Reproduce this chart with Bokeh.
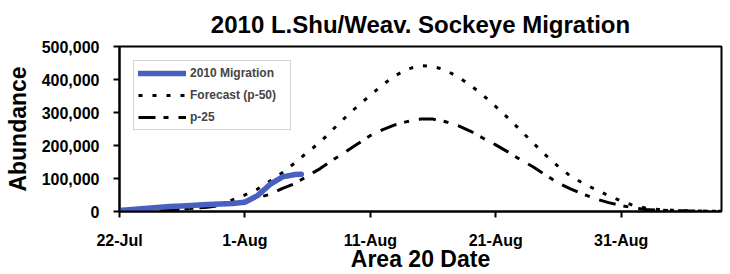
from bokeh.plotting import figure
from bokeh.models import Range1d, FixedTicker, NumeralTickFormatter, Legend, LegendItem
from bokeh.embed import file_html
from bokeh.resources import INLINE

# Days since 22-Jul
days = list(range(0, 49))
p50 = [0, 1000, 2000, 3000, 5000, 7000, 10000, 15000, 22000, 35000,
       50000, 68000, 92000, 118000, 148000, 180000, 210000, 248000, 285000, 320000,
       352000, 385000, 412000, 432000, 442000, 440000, 428000, 408000, 382000, 352000,
       318000, 283000, 245000, 207000, 170000, 136000, 106000, 85000, 66000, 48000,
       32000, 18000, 10000, 6000, 4000, 2500, 1500, 1000, 500]
p25 = [0, 1000, 2000, 3000, 5000, 7000, 10000, 13000, 18000, 24000,
       32000, 42000, 52000, 70000, 85000, 108000, 130000, 156000, 180000, 205000,
       230000, 248000, 263000, 273000, 280000, 280000, 272000, 260000, 243000, 222000,
       202000, 180000, 156000, 135000, 110000, 86000, 68000, 52000, 38000, 27000,
       18000, 11000, 6000, 4000, 3000, 2000, 1500, 1000, 500]
mig_days = [0, 1, 2, 3, 4, 5, 6, 7, 8, 9, 10, 11, 12, 13, 14, 14.5]
migration = [3000, 6000, 9000, 12000, 15000, 17000, 19000, 21000, 23000, 24000,
             28000, 48000, 82000, 105000, 112000, 113000]

tick_days = [0, 10, 20, 30, 40]
tick_labels = ["22-Jul", "1-Aug", "11-Aug", "21-Aug", "31-Aug"]
y_ticks = [0, 100000, 200000, 300000, 400000, 500000]

p = figure(width=724, height=274, output_backend="svg", toolbar_location=None,
           x_range=Range1d(0, 48), y_range=Range1d(0, 500000),
           min_border_left=119, min_border_right=3, min_border_top=46, min_border_bottom=63)
p.title.text = "2010 L.Shu/Weav. Sockeye Migration"
p.title.align = "center"
p.title.text_font = "Liberation Sans"
p.title.text_font_size = "24px"
p.title.text_font_style = "bold"
p.title.text_color = "black"
p.title.standoff = 17

p.xgrid.visible = False
p.ygrid.visible = False
p.outline_line_color = "black"
p.outline_line_width = 2
p.background_fill_color = "white"
p.border_fill_color = "white"

for ax in (p.xaxis[0], p.yaxis[0]):
    ax.axis_line_width = 2
    ax.axis_line_color = "black"
    ax.major_tick_line_width = 2
    ax.major_tick_line_color = "black"
    ax.major_tick_out = 6
    ax.major_tick_in = 0
    ax.minor_tick_line_color = None
    ax.major_label_text_font = "Liberation Sans"
    ax.major_label_text_font_size = "16px"
    ax.major_label_text_font_style = "bold"
    ax.major_label_text_color = "black"
    ax.axis_label_text_font = "Liberation Sans"
    ax.axis_label_text_font_size = "23px"
    ax.axis_label_text_font_style = "bold"
    ax.axis_label_text_color = "black"

p.xaxis.ticker = FixedTicker(ticks=tick_days)
p.xaxis.major_label_overrides = {d: l for d, l in zip(tick_days, tick_labels)}
p.xaxis.axis_label = "Area 20 Date"
p.xaxis.major_label_standoff = 14
p.xaxis.axis_label_standoff = -6
p.yaxis.ticker = FixedTicker(ticks=y_ticks)
p.yaxis.formatter = NumeralTickFormatter(format="0,0")
p.yaxis.axis_label = "Abundance"
p.yaxis.major_label_standoff = 14
p.yaxis.axis_label_standoff = 8

r_p50 = p.line(days, p50, line_color="black", line_width=3, line_dash="4 10")
r_p25 = p.line(days, p25, line_color="black", line_width=3, line_dash="17 8 5 10")
r_mig = p.line(mig_days, migration, line_color="#4a60c0", line_width=5.5, line_cap="round")

legend = Legend(items=[
    LegendItem(label="2010 Migration", renderers=[r_mig]),
    LegendItem(label="Forecast (p-50)", renderers=[r_p50]),
    LegendItem(label="p-25", renderers=[r_p25]),
], location="top_left")
legend.margin = 14
legend.padding = 4
legend.spacing = 6
legend.glyph_width = 48
legend.glyph_height = 16
legend.label_standoff = 4
legend.label_text_font = "Liberation Sans"
legend.label_text_font_size = "12px"
legend.label_text_font_style = "bold"
legend.label_height = 16
legend.label_width = 96
legend.border_line_color = "#aaaaaa"
legend.border_line_width = 1
legend.background_fill_alpha = 1
p.add_layout(legend)

open("out.html", "w").write(file_html(p, INLINE))
